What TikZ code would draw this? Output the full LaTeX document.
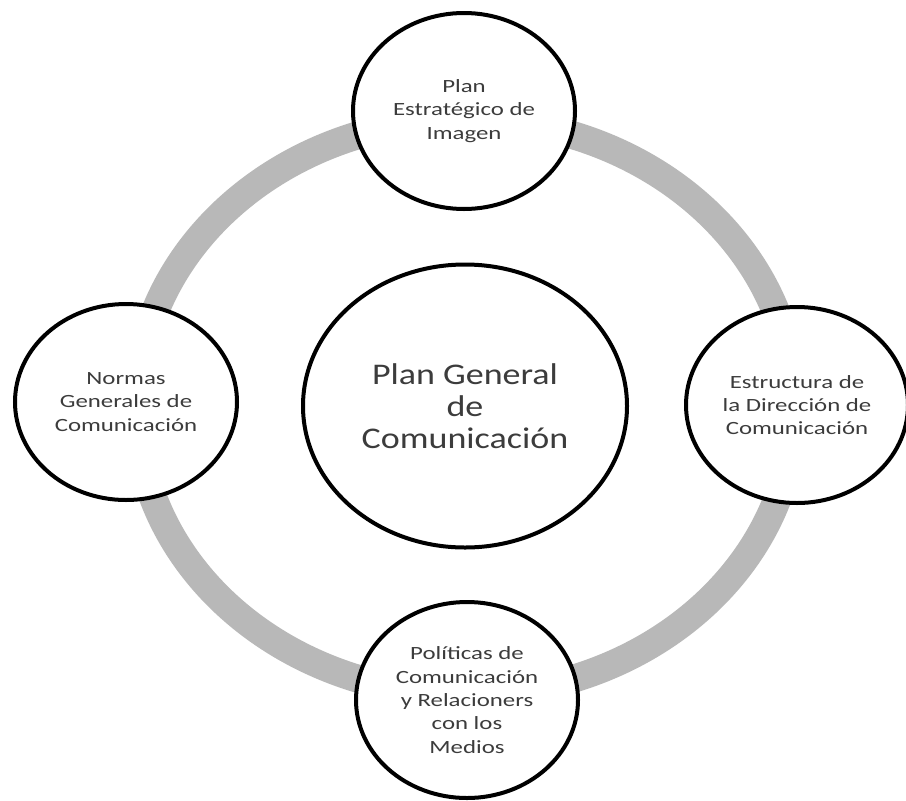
\documentclass[tikz,border=0pt]{standalone}
\usepackage{fontspec}
\setmainfont{Carlito}[FakeStretch=1.2]
\newfontfamily\smallfnt{Carlito}[FakeStretch=1.33]
\usetikzlibrary{shapes.geometric}
\definecolor{ringgray}{HTML}{B8B8B8}
\definecolor{txtgray}{HTML}{3C3C3C}
\tikzset{
  smallcirc/.style={ellipse, draw=black, line width=3pt, fill=white, minimum width=222*0.75pt, minimum height=196*0.75pt, inner sep=0pt, align=center, text=txtgray, font=\smallfnt\fontsize{14}{17.5}\selectfont},
  bigcirc/.style={ellipse, draw=black, line width=3pt, fill=white, minimum width=324*0.75pt, minimum height=283*0.75pt, inner sep=0pt, align=center, text=txtgray, font=\fontsize{22.5}{24}\selectfont},
  ring/.style={draw=ringgray, line width=28*0.75pt}
}
\begin{document}
\begin{tikzpicture}[x=0.75pt, y=-0.75pt]
\useasboundingbox (0,0) rectangle (906,800);
\fill[white] (0,0) rectangle (906,800);
\coordinate (rc) at (465.5,407);
\draw[ring] (rc) ellipse [x radius=329*0.75pt, y radius=287.5*0.75pt];
\node[bigcirc] (center) at (465,406) {Plan General\\de\\Comunicación};
\node[smallcirc] (top) at (464,111) {Plan\\Estratégico de\\Imagen};
\node[smallcirc] (left) at (126,402) {Normas\\Generales de\\Comunicación};
\node[smallcirc] (right) at (797,405) {Estructura de\\la Dirección de\\Comunicación};
\node[smallcirc] (bottom) at (467,700) {Políticas de\\Comunicación\\y Relacioners\\con los\\Medios};
\end{tikzpicture}
\end{document}
